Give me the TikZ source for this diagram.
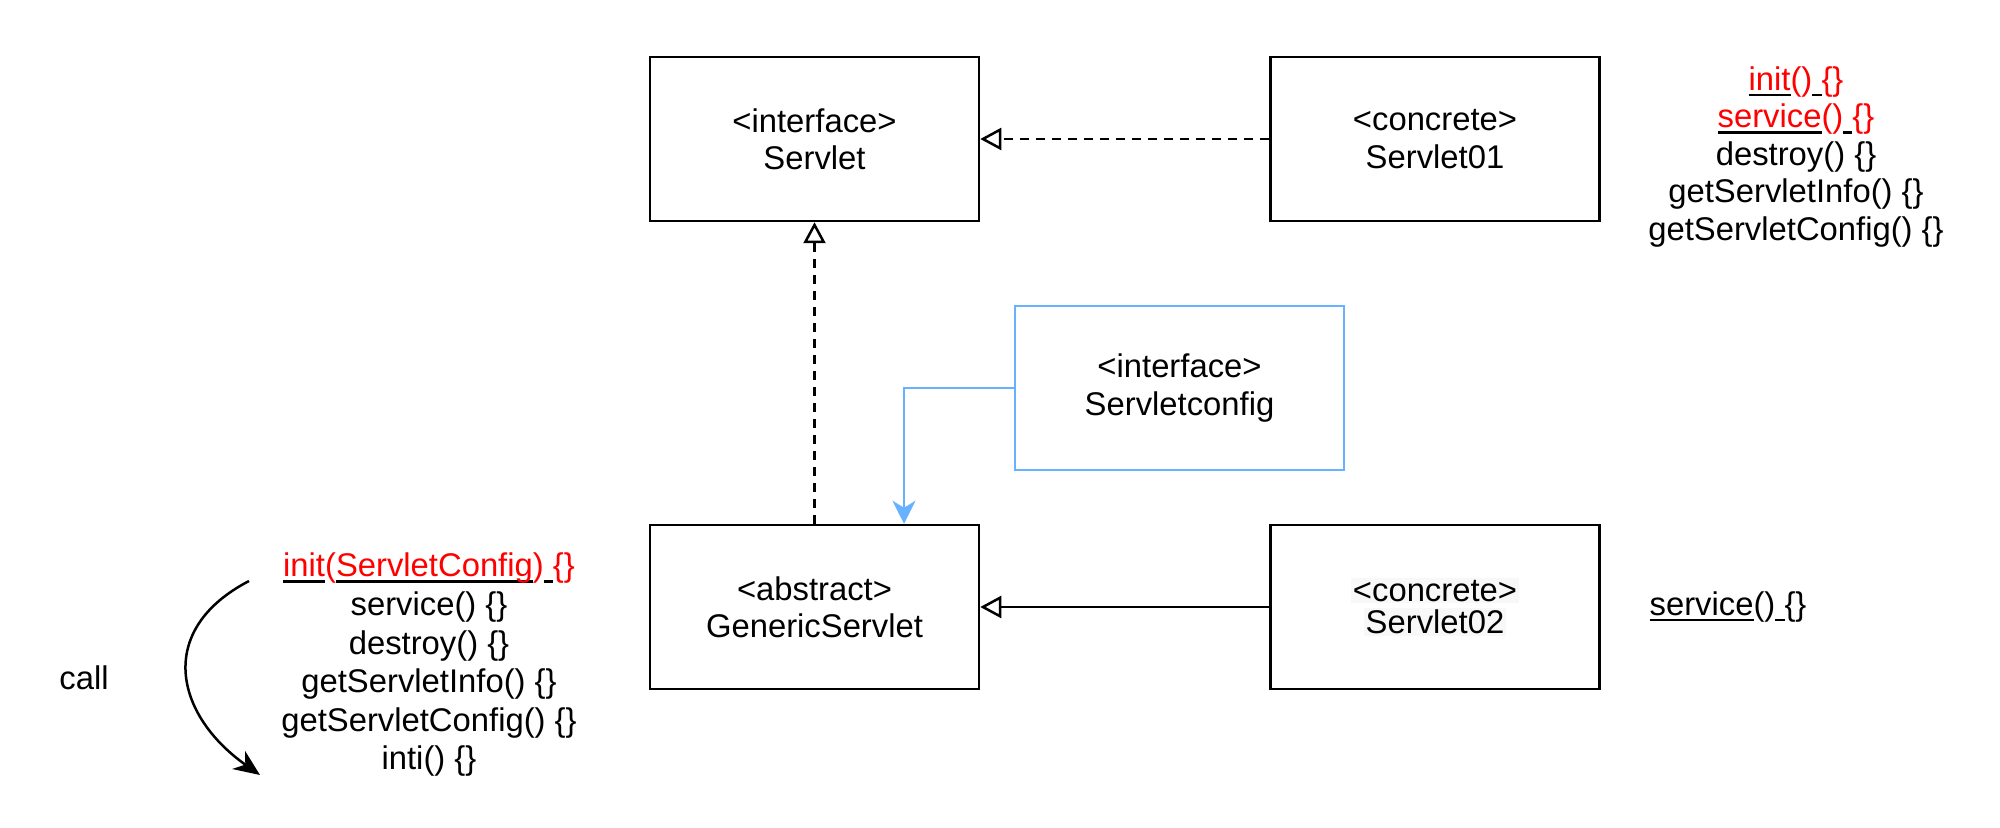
\documentclass[tikz,border=0pt]{standalone}
\usepackage{fontspec}
\setmainfont{Liberation Sans}
\usetikzlibrary{arrows.meta}
\definecolor{cfgblue}{RGB}{102,178,255}
\definecolor{lightbg}{RGB}{248,248,248}
\newcommand\ulk[1]{\leavevmode\setbox0\hbox{#1}\rlap{\textcolor{black}{\rule[-2.8pt]{\wd0}{1.2pt}}}\box0}
\begin{document}
\begin{tikzpicture}[x=0.5pt,y=-0.5pt,
  box/.style={draw=black, line width=1.25pt, minimum width=164.5pt, minimum height=82pt, align=center, inner sep=0pt, font=\fontsize{16.4}{18.7}\selectfont},
  cfgbox/.style={box, draw=cfgblue},
  rlist/.style={align=center, inner sep=0pt, font=\fontsize{16.4}{18.75}\selectfont},
  llist/.style={align=center, inner sep=0pt, font=\fontsize{16.4}{19.3}\selectfont},
  lbl/.style={inner sep=0pt, font=\fontsize{16.4}{18.7}\selectfont},
  realize/.style={line width=1.25pt, dash pattern=on 4.5pt off 3.5pt, -{Triangle[open, length=10.5pt, width=11pt]}},
  inherit/.style={line width=1.25pt, -{Triangle[open, length=10.5pt, width=11pt]}},
  bluearrow/.style={draw=cfgblue, line width=1.25pt, -{Stealth[length=11.5pt, width=11.5pt, inset=3.5pt]}, cfgblue},
  callarrow/.style={line width=1.25pt, -{Stealth[length=13pt, width=11pt, inset=4pt]}}
]
\useasboundingbox (0,0) rectangle (2000,828);
\fill[white] (0,0) rectangle (2000,828);

\node[box] (servlet) at (814.5,139) {<interface>\\Servlet};
\node[box] (s01) at (1435,139) {<concrete>\\Servlet01};
\node[cfgbox] (cfg) at (1179.5,388) {<interface>\\Servletconfig};
\node[box] (gen) at (814.5,607) {<abstract>\\GenericServlet};
\node[box] (s02) at (1435,607) {\setlength{\fboxsep}{1pt}\colorbox{lightbg}{<concrete>}\\[-2.4pt]\setlength{\fboxsep}{1pt}\colorbox{lightbg}{Servlet02}};

\draw[realize] (s01.west) -- (servlet.east);
\draw[realize] (gen.north) -- (servlet.south);
\draw[inherit] (s02.west) -- (gen.east);
\draw[bluearrow] (cfg.west) -| ([xshift=44.75pt]gen.north);

\node[rlist] (toplist) at (1796,157) {\textcolor{red}{\ulk{init}()\ulk{\ }\{\}}\\
\textcolor{red}{\ulk{service}()\ulk{\ }\{\}}\\
destroy() \{\}\\
getServletInfo() \{\}\\
getServletConfig() \{\}};

\node[rlist] (s02list) at (1728,607) {\ulk{service}()\ulk{\ }\{\}};

\node[llist] (genlist) at (429,665) {\textcolor{red}{\ulk{init}(\ulk{ServletConfig})\ulk{\ }\{\}}\\
service() \{\}\\
destroy() \{\}\\
getServletInfo() \{\}\\
getServletConfig() \{\}\\
inti() \{\}};

\node[lbl] (call) at (84,678) {call};

\coordinate (cstart) at (249,581);
\coordinate (cend) at (260,775);
\draw[callarrow] (cstart) .. controls (155,630) and (175,715) .. (cend);
\end{tikzpicture}
\end{document}
